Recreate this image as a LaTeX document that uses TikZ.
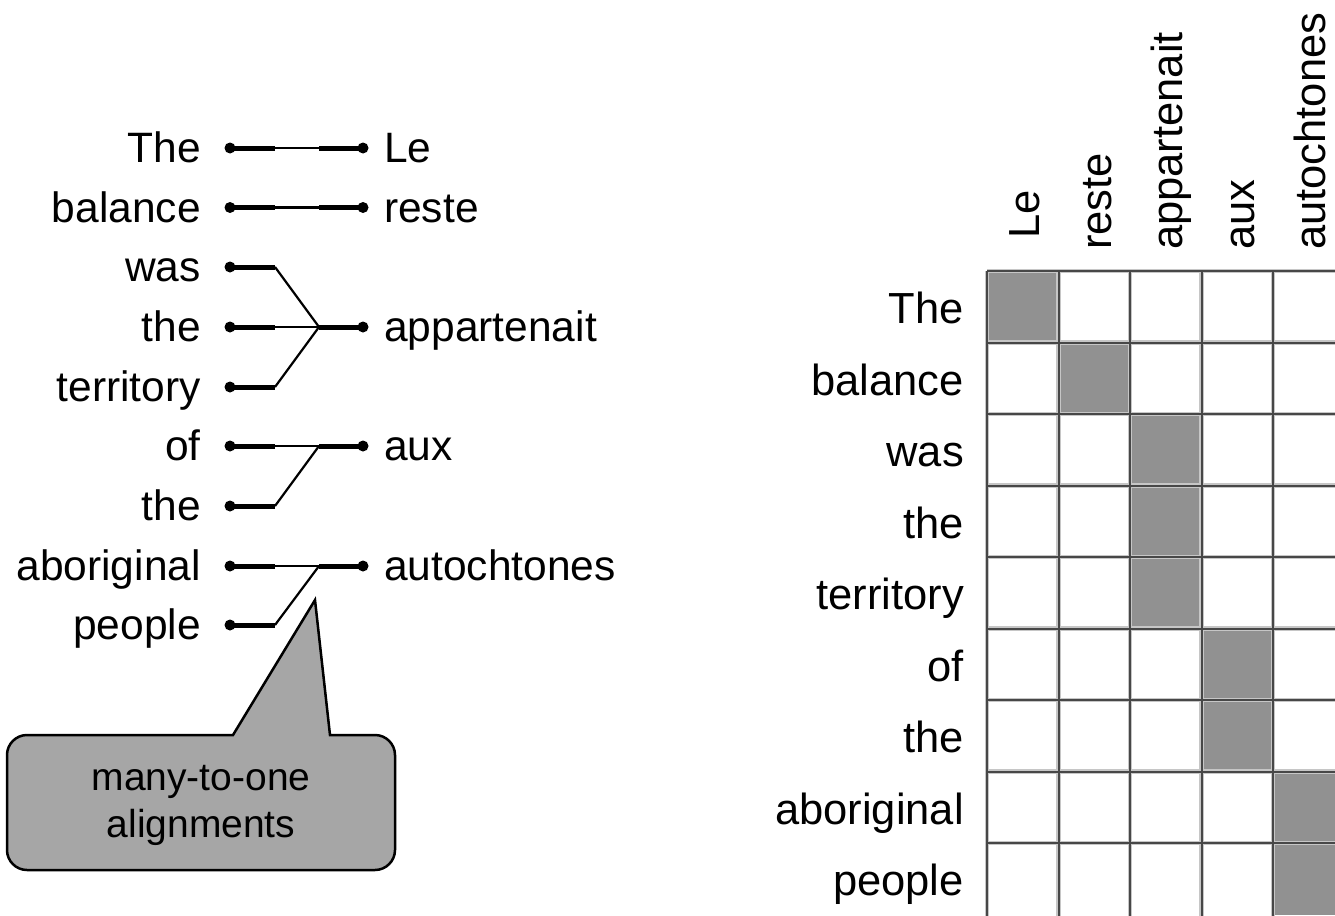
\documentclass[tikz,border=0pt]{standalone}
\usepackage{fontspec}
\setmainfont{Liberation Sans}
\definecolor{cellgray}{HTML}{919191}
\definecolor{callgray}{HTML}{A6A6A6}
\tikzset{
  word/.style={font=\fontsize{42.5}{50}\selectfont, inner sep=0pt},
  gword/.style={font=\fontsize{43.5}{50}\selectfont, inner sep=0pt},
  adot/.style={circle, fill=black, inner sep=0pt, minimum size=11pt},
  thickseg/.style={line width=5pt, line cap=butt},
  thinseg/.style={line width=2.2pt, line cap=butt, line join=miter},
  gridsoft/.style={draw=gray!45, line width=4.5pt},
  gridhard/.style={draw=black!72, line width=2pt},
  callout/.style={fill=callgray, draw=black, line width=2.5pt, line join=miter},
}
\begin{document}
\begin{tikzpicture}[x=1pt, y=-1pt]
\useasboundingbox (0,0) rectangle (1335,915);
\clip (0,0) rectangle (1335,915);

% ---------- left: word alignment ----------
\foreach \w/\y [count=\i] in {The/148, balance/207.5, was/267, the/327, territory/387, of/446, the/506, aboriginal/566, people/625}{
  \node[word, anchor=base east] (lw\i) at (201,\y+14.5) {\w};
  \node[adot] (ld\i) at (230,\y) {};
  \coordinate (lk\i) at (275,\y);
}
\foreach \w/\y/\k in {Le/148/1, reste/207.5/2, appartenait/327/3, aux/446/4, autochtones/566/5}{
  \node[word, anchor=base west] (rw\k) at (384,\y+14.5) {\w};
  \node[adot] (rd\k) at (363,\y) {};
  \coordinate (J\k) at (319,\y);
}
% thick stubs on the left
\foreach \i in {1,...,9}{ \draw[thickseg] (ld\i.center) -- (lk\i); }
% thick stubs on the right
\foreach \k in {1,...,5}{ \draw[thickseg] (J\k) -- (rd\k.center); }
% thin links
\draw[thinseg] (lk1) -- (J1);
\draw[thinseg] (lk2) -- (J2);
\draw[thinseg] (lk3) -- (J3);
\draw[thinseg] (lk4) -- (J3);
\draw[thinseg] (lk5) -- (J3);
\draw[thinseg] (lk6) -- (J4);
\draw[thinseg] (lk7) -- (J4);
\draw[thinseg] (lk8) -- (J5);
\draw[thinseg] (lk9) -- (J5);

% ---------- callout ----------
\draw[callout] (233,735) -- (315,600) -- (330,735) -- (375,735)
  .. controls (386,735) and (395,744) .. (395,755) -- (395,850)
  .. controls (395,861) and (386,870) .. (375,870) -- (27,870)
  .. controls (16,870) and (7,861) .. (7,850) -- (7,755)
  .. controls (7,744) and (16,735) .. (27,735) -- cycle;
\node[font=\fontsize{39}{47}\selectfont, inner sep=0pt, align=center, anchor=base] (note) at (201,837) {many-to-one\\alignments};

% ---------- right: alignment matrix ----------
\foreach \r/\c in {1/1, 2/2, 3/3, 4/3, 5/3, 6/4, 7/4, 8/5, 9/5}{
  \fill[cellgray] ({987+(\c-1)*71.5},{271+(\r-1)*71.5}) rectangle ++(71.5,71.5);
}
\foreach \s in {gridsoft, gridhard}{
  \foreach \i in {0,...,5}{ \draw[\s] ({987+\i*71.5},271) -- ({987+\i*71.5},916); }
  \foreach \j in {0,...,8}{ \draw[\s] (987,{271+\j*71.5}) -- (1340,{271+\j*71.5}); }
}
\foreach \w [count=\i] in {The, balance, was, the, territory, of, the, aboriginal, people}{
  \node[gword, anchor=base east] (row\i) at (964,{271+(\i-0.5)*71.5+17}) {\w};
}
\foreach \w/\b [count=\i] in {Le/239, reste/250, appartenait/250, aux/250, autochtones/250}{
  \node[gword, rotate=90, anchor=base west] (col\i) at ({987+(\i-0.5)*71.5+17},\b) {\w};
}
\end{tikzpicture}
\end{document}
